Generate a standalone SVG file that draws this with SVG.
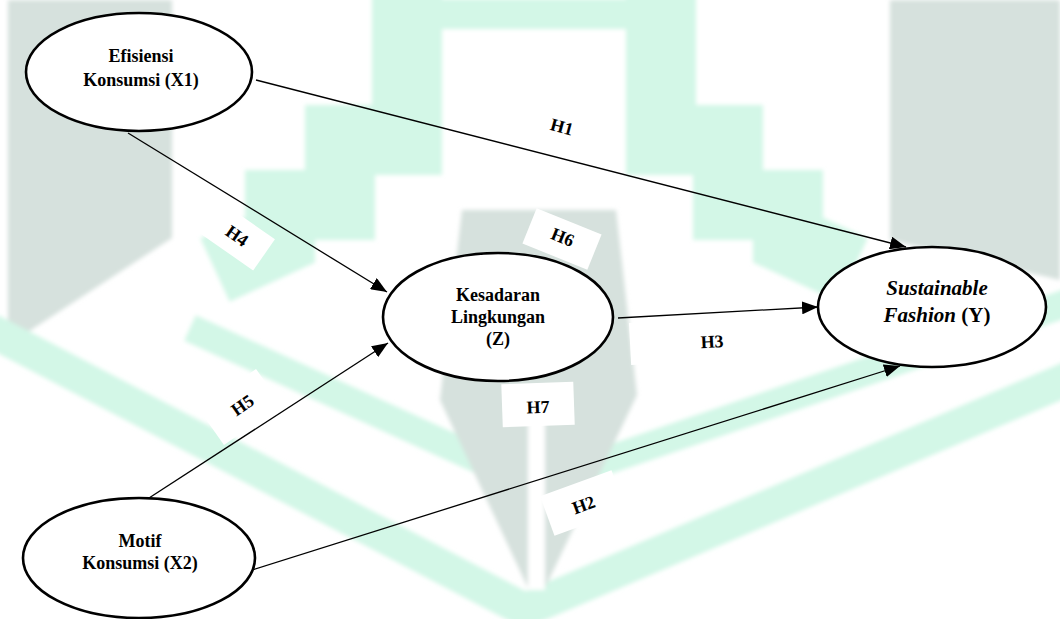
<svg xmlns="http://www.w3.org/2000/svg" width="1060" height="619" viewBox="0 0 1060 619">
  <defs>
    <style>
      .node ellipse { fill: #ffffff; stroke: #000000; stroke-width: 2.6; }
      .lbl { font-family: "Liberation Serif", "Times New Roman", serif; font-weight: bold; font-size: 18px; fill: #000000; text-anchor: middle; }
      .big { font-size: 21px; }
      .it { font-style: italic; }
      .edge { fill: none; stroke: #000000; stroke-width: 1.3; marker-end: url(#arrow); }
      .tag { fill: #ffffff; }
      .mint { fill: none; stroke: #d3f7e7; stroke-linejoin: miter; }
      .grey { fill: #d6e1dd; }
    </style>
    <marker id="arrow" markerUnits="userSpaceOnUse" markerWidth="17" markerHeight="13" refX="16" refY="6.5" orient="auto">
      <path d="M0,0 L16,6.5 L0,13 z" fill="#000000"/>
    </marker>
    <filter id="soft" x="-5%" y="-5%" width="110%" height="110%">
      <feGaussianBlur stdDeviation="2"/>
    </filter>
  </defs>

  <rect width="1060" height="619" fill="#ffffff"/>

  <!-- background emblem -->
  <g id="emblem" filter="url(#soft)">
    <polygon class="grey" points="8,0 172,0 172,238 8,345"/>
    <polygon class="grey" points="890,0 1060,0 1060,280 890,240"/>
    <!-- stepped roof -->
    <polyline class="mint" stroke-width="70" points="407,-10 407,140 340,140 340,205 280,205 280,240 215,270"/>
    <polyline class="mint" stroke-width="70" points="661,-10 661,140 728,140 728,205 788,205 788,240 853,270"/>
    <line class="mint" stroke-width="30" x1="407" y1="14" x2="661" y2="14"/>
    <!-- chevron bands -->
    <polyline class="mint" stroke-width="34" points="-10,330 525,610 1070,378"/>
    <polyline class="mint" stroke-width="28" points="190,328 535,485 1070,302"/>
    <!-- central pen -->
    <polygon class="grey" points="462,210 616,210 637,395 545,588 528,588 440,400"/>
    <rect x="528" y="400" width="17" height="190" fill="#ffffff"/>
  </g>

  <!-- connectors -->
  <g id="connectors">
    <line class="edge" x1="256" y1="80" x2="906" y2="247"/>
    <line class="edge" x1="128" y1="133" x2="387" y2="292"/>
    <line class="edge" x1="149" y1="498" x2="388" y2="343"/>
    <line class="edge" x1="618" y1="318" x2="818" y2="307"/>
    <line class="edge" x1="252" y1="570" x2="900" y2="366"/>
  </g>

  <!-- path labels -->
  <g id="labels">
    <g id="lbl-h1">
      <text class="lbl" x="0" y="6" transform="translate(562,127) rotate(15)">H1</text>
    </g>
    <g id="lbl-h4" transform="translate(237,236) rotate(35)">
      <rect class="tag" x="-33" y="-19" width="66" height="38"/>
      <text class="lbl" x="0" y="6">H4</text>
    </g>
    <g id="lbl-h6" transform="translate(562,239) rotate(22)">
      <rect class="tag" x="-35" y="-19" width="70" height="38"/>
      <text class="lbl" x="0" y="4">H6</text>
    </g>
    <g id="lbl-h7" transform="translate(538,404) rotate(-2)">
      <rect class="tag" x="-36" y="-21" width="72" height="43"/>
      <text class="lbl" x="0" y="9">H7</text>
    </g>
    <g id="lbl-h3" transform="translate(688,341) rotate(-3)">
      <rect class="tag" x="-58" y="-21" width="116" height="42"/>
      <text class="lbl" x="24" y="8">H3</text>
    </g>
    <g id="lbl-h5" transform="translate(240,407) rotate(-35)">
      <rect class="tag" x="-35" y="-22" width="70" height="44"/>
      <text class="lbl" x="3" y="6">H5</text>
    </g>
    <g id="lbl-h2" transform="translate(583,503) rotate(-20)">
      <rect class="tag" x="-38" y="-21" width="76" height="42"/>
      <text class="lbl" x="0" y="8">H2</text>
    </g>
  </g>

  <!-- constructs -->
  <g id="node-x1" class="node">
    <ellipse cx="139" cy="72" rx="113" ry="59"/>
    <text class="lbl" x="141" y="62">Efisiensi</text>
    <text class="lbl" x="141" y="86">Konsumsi (X1)</text>
  </g>
  <g id="node-z" class="node">
    <ellipse cx="498" cy="317" rx="115" ry="64"/>
    <text class="lbl" x="498" y="301">Kesadaran</text>
    <text class="lbl" x="498" y="323">Lingkungan</text>
    <text class="lbl" x="498" y="345">(Z)</text>
  </g>
  <g id="node-y" class="node">
    <ellipse cx="932" cy="307" rx="114" ry="60"/>
    <text class="lbl big it" x="937" y="295">Sustainable</text>
    <text class="lbl big" x="937" y="322"><tspan class="it">Fashion</tspan> (Y)</text>
  </g>
  <g id="node-x2" class="node">
    <ellipse cx="139" cy="558" rx="116" ry="60"/>
    <text class="lbl" x="140" y="547">Motif</text>
    <text class="lbl" x="140" y="569">Konsumsi (X2)</text>
  </g>
</svg>
